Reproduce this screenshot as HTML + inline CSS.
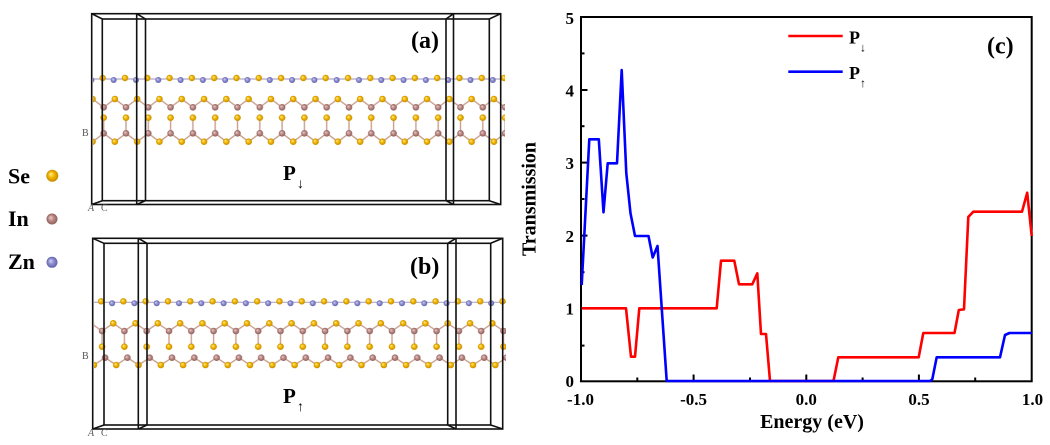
<!DOCTYPE html>
<html><head><meta charset="utf-8"><style>
html,body{margin:0;padding:0;background:#fff;}
svg{display:block;}
text{font-family:"Liberation Serif","DejaVu Serif",serif;font-weight:bold;fill:#000;}
.sm{font-weight:normal;fill:#555;font-size:10px;}
</style></head><body>
<svg width="1050" height="445" viewBox="0 0 1050 445" xmlns="http://www.w3.org/2000/svg">
<defs>
<radialGradient id="gSe" cx="50%" cy="50%" r="50%" fx="35%" fy="35%"><stop offset="0" stop-color="#fff2a0"/><stop offset="0.5" stop-color="#f2b600"/><stop offset="1" stop-color="#c58a00"/></radialGradient>
<radialGradient id="gIn" cx="50%" cy="50%" r="50%" fx="35%" fy="35%"><stop offset="0" stop-color="#ead0cc"/><stop offset="0.5" stop-color="#bc8a86"/><stop offset="1" stop-color="#8e5e5a"/></radialGradient>
<radialGradient id="gZn" cx="50%" cy="50%" r="50%" fx="35%" fy="35%"><stop offset="0" stop-color="#d6d6f6"/><stop offset="0.5" stop-color="#8e8ed2"/><stop offset="1" stop-color="#6060a8"/></radialGradient>

<pattern id="pa" patternUnits="userSpaceOnUse" x="143.3" y="0" width="22.3" height="445">
  <line x1="0" y1="79" x2="22.3" y2="79" stroke="#b0a8cc" stroke-width="1.2"/>
  <polyline points="-6.15,99 5,107.3 16.15,99 27.3,107.3" fill="none" stroke="#caa090" stroke-width="1.4"/>
  <line x1="5" y1="117.7" x2="5" y2="133.3" stroke="#caa090" stroke-width="1.4"/>
  <polyline points="-6.15,141.7 5,133.3 16.15,141.7 27.3,133.3" fill="none" stroke="#caa090" stroke-width="1.4"/>
  <circle cx="4" cy="78" r="3.2" fill="url(#gSe)"/>
  <circle cx="15" cy="80" r="3" fill="url(#gZn)"/>
  <circle cx="16.15" cy="99" r="3.3" fill="url(#gSe)"/>
  <circle cx="5" cy="107.3" r="3.3" fill="url(#gIn)"/>
  <circle cx="5" cy="117.7" r="3.3" fill="url(#gSe)"/>
  <circle cx="5" cy="133.3" r="3.3" fill="url(#gIn)"/>
  <circle cx="16.15" cy="141.7" r="3.3" fill="url(#gSe)"/>
</pattern>

<pattern id="pb" patternUnits="userSpaceOnUse" x="141.7" y="0" width="22.3" height="445">
  <line x1="0" y1="302.3" x2="22.3" y2="302.3" stroke="#b0a8cc" stroke-width="1.2"/>
  <polyline points="-6.15,323.3 5,331 16.15,323.3 27.3,331" fill="none" stroke="#caa090" stroke-width="1.4"/>
  <line x1="5" y1="331" x2="5" y2="346.7" stroke="#caa090" stroke-width="1.4"/>
  <polyline points="-3.15,365 8,357.7 19.15,365 30.3,357.7" fill="none" stroke="#caa090" stroke-width="1.4"/>
  <circle cx="4" cy="301.3" r="3.2" fill="url(#gSe)"/>
  <circle cx="15" cy="303.3" r="3" fill="url(#gZn)"/>
  <circle cx="16.15" cy="323.3" r="3.3" fill="url(#gSe)"/>
  <circle cx="5" cy="331" r="3.3" fill="url(#gIn)"/>
  <circle cx="5" cy="346.7" r="3.3" fill="url(#gSe)"/>
  <circle cx="8" cy="357.7" r="3.3" fill="url(#gIn)"/>
  <circle cx="19.15" cy="365" r="3.3" fill="url(#gSe)"/>
</pattern>
</defs>

<!-- Atom legend -->
<text x="8" y="183.3" font-size="22">Se</text>
<circle cx="52.3" cy="175.7" r="6" fill="url(#gSe)"/>
<text x="8" y="226" font-size="22">In</text>
<circle cx="52" cy="219" r="5.5" fill="url(#gIn)"/>
<text x="8" y="269" font-size="22">Zn</text>
<circle cx="52" cy="262.3" r="5.5" fill="url(#gZn)"/>

<!-- Panel (a) -->
<rect x="93" y="70" width="412" height="78" fill="url(#pa)"/>
<g fill="none" stroke="#111" stroke-width="1.6">
  <rect x="91.7" y="13.7" width="409" height="190.8"/>
  <rect x="102.3" y="19" width="387" height="181.7"/>
  <line x1="91.7" y1="13.7" x2="102.3" y2="19"/>
  <line x1="500.7" y1="13.7" x2="489.3" y2="19"/>
  <line x1="91.7" y1="204.5" x2="102.3" y2="200.7"/>
  <line x1="500.7" y1="204.5" x2="489.3" y2="200.7"/>
  <line x1="136.7" y1="13.7" x2="136.7" y2="204.5"/>
  <line x1="145.5" y1="19" x2="145.5" y2="200.7"/>
  <line x1="136.7" y1="13.7" x2="145.5" y2="19"/>
  <line x1="136.7" y1="204.5" x2="145.5" y2="200.7"/>
  <line x1="446" y1="19" x2="446" y2="200.7"/>
  <line x1="453.5" y1="13.7" x2="453.5" y2="204.5"/>
  <line x1="446" y1="19" x2="453.5" y2="13.7"/>
  <line x1="446" y1="200.7" x2="453.5" y2="204.5"/>
</g>
<text x="411" y="48" font-size="24">(a)</text>
<text x="283" y="180" font-size="21">P</text>
<text x="297" y="188" font-size="14" font-family="DejaVu Sans">↓</text>
<text class="sm" x="82" y="136">B</text>
<text class="sm" x="88" y="211" font-style="italic">A</text>
<text class="sm" x="101" y="211">C</text>

<!-- Panel (b) -->
<rect x="94" y="293" width="412" height="78" fill="url(#pb)"/>
<g fill="none" stroke="#111" stroke-width="1.6">
  <rect x="92.7" y="238.3" width="410" height="190.7"/>
  <rect x="104" y="243.3" width="386.7" height="181.7"/>
  <line x1="92.7" y1="238.3" x2="104" y2="243.3"/>
  <line x1="502.7" y1="238.3" x2="490.7" y2="243.3"/>
  <line x1="92.7" y1="429" x2="104" y2="425"/>
  <line x1="502.7" y1="429" x2="490.7" y2="425"/>
  <line x1="138.3" y1="238.3" x2="138.3" y2="429"/>
  <line x1="147" y1="243.3" x2="147" y2="425"/>
  <line x1="138.3" y1="238.3" x2="147" y2="243.3"/>
  <line x1="138.3" y1="429" x2="147" y2="425"/>
  <line x1="447.7" y1="243.3" x2="447.7" y2="425"/>
  <line x1="456" y1="238.3" x2="456" y2="429"/>
  <line x1="447.7" y1="243.3" x2="456" y2="238.3"/>
  <line x1="447.7" y1="425" x2="456" y2="429"/>
</g>
<text x="410" y="274" font-size="24">(b)</text>
<text x="283" y="403" font-size="21">P</text>
<text x="297" y="411" font-size="14" font-family="DejaVu Sans">↑</text>
<text class="sm" x="82" y="359">B</text>
<text class="sm" x="88" y="436" font-style="italic">A</text>
<text class="sm" x="101" y="436">C</text>

<!-- Chart (c) -->
<rect x="581" y="17" width="450.7" height="364.3" fill="none" stroke="#000" stroke-width="2"/>
<g stroke="#000" stroke-width="2">
  <line x1="581" y1="345.6" x2="584.5" y2="345.6"/>
  <line x1="581" y1="308.2" x2="587.5" y2="308.2"/>
  <line x1="581" y1="272.2" x2="584.5" y2="272.2"/>
  <line x1="581" y1="235.6" x2="587.5" y2="235.6"/>
  <line x1="581" y1="199" x2="584.5" y2="199"/>
  <line x1="581" y1="162.6" x2="587.5" y2="162.6"/>
  <line x1="581" y1="126.2" x2="584.5" y2="126.2"/>
  <line x1="581" y1="90" x2="587.5" y2="90"/>
  <line x1="581" y1="53.4" x2="584.5" y2="53.4"/>
  <line x1="637.3" y1="381" x2="637.3" y2="377.5"/>
  <line x1="693.6" y1="381" x2="693.6" y2="374.5"/>
  <line x1="750" y1="381" x2="750" y2="377.5"/>
  <line x1="806.3" y1="381" x2="806.3" y2="374.5"/>
  <line x1="862.6" y1="381" x2="862.6" y2="377.5"/>
  <line x1="918.9" y1="381" x2="918.9" y2="374.5"/>
  <line x1="975.2" y1="381" x2="975.2" y2="377.5"/>
</g>
<g font-size="17" text-anchor="end">
  <text x="574" y="387">0</text>
  <text x="574" y="314.5">1</text>
  <text x="574" y="241.8">2</text>
  <text x="574" y="169">3</text>
  <text x="574" y="96.3">4</text>
  <text x="574" y="24">5</text>
</g>
<g font-size="17" text-anchor="middle">
  <text x="580.5" y="405">-1.0</text>
  <text x="693.6" y="405">-0.5</text>
  <text x="806.3" y="405">0.0</text>
  <text x="919" y="405">0.5</text>
  <text x="1032.5" y="405">1.0</text>
</g>
<text x="812" y="428" font-size="20" text-anchor="middle">Energy (eV)</text>
<text transform="translate(535.5,199) rotate(-90)" font-size="20" text-anchor="middle">Transmission</text>

<polyline fill="none" stroke="#ff0000" stroke-width="2.6" stroke-linejoin="round" points="581.7,308.3 626,308.3 631,356.7 635,356.7 639.3,308.3 716.7,308.3 721,260.7 734.3,260.7 739,284.3 752.3,284.3 757.3,273.3 761,334 766,334 770,381 833.5,381 838.3,357.3 918.7,357.3 923.3,333 954.5,333 958.8,310 964,309.3 968.3,217 973.3,211.7 1022,211.7 1027.2,192.7 1031.7,236"/>
<polyline fill="none" stroke="#0000ff" stroke-width="2.6" stroke-linejoin="round" points="581.7,285 589.3,139.3 598.8,139.3 603.5,212.3 607.7,163.3 617,163.3 621.7,70 626.3,173.3 630.5,213.3 635,236 648.5,236 652.7,257.5 657.5,246 666.7,381 930,381 932.3,379.3 936.7,357.3 1000,357.3 1005,335 1009.5,333 1031.7,333"/>

<!-- legend -->
<line x1="788.3" y1="36" x2="842.7" y2="36" stroke="#ff0000" stroke-width="2.6"/>
<line x1="788.3" y1="71.7" x2="842.7" y2="71.7" stroke="#0000ff" stroke-width="2.6"/>
<text x="849" y="43.5" font-size="18">P</text>
<text x="860" y="51.5" font-size="12" font-family="DejaVu Sans">↓</text>
<text x="849" y="79" font-size="18">P</text>
<text x="860" y="87" font-size="12" font-family="DejaVu Sans">↑</text>
<text x="987" y="53.5" font-size="24">(c)</text>
</svg>
</body></html>
